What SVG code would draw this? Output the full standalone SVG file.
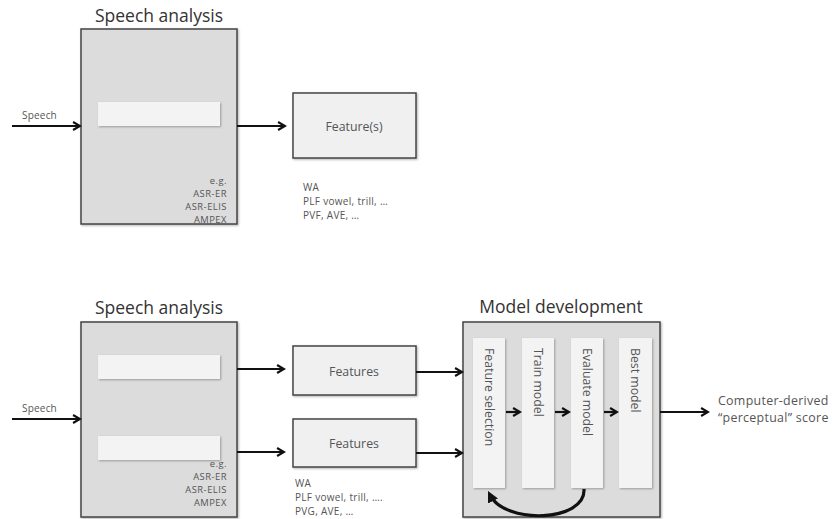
<svg xmlns="http://www.w3.org/2000/svg" width="839" height="519" viewBox="0 0 839 519">
  <style>
    text { font-family: "Open Sans", Lato, "Liberation Sans", sans-serif; fill: #555; }
    .title { font-size: 17.5px; fill: #333; text-anchor: middle; }
    .small { font-size: 10px; letter-spacing: 0.2px; }
    .eg { font-size: 9.4px; letter-spacing: 0.5px; text-anchor: end; }
    .note { font-size: 10px; letter-spacing: 0.3px; }
    .label { font-size: 12.3px; text-anchor: middle; }
    .vert { font-size: 12.3px; }
    .out { font-size: 12.4px; letter-spacing: 0.3px; }
    .outer { fill: #dcdcdc; stroke: #444; stroke-width: 1.5; }
    .bar { fill: #f3f3f3; }
    .feat { fill: #f0f0f0; stroke: #444; stroke-width: 1.5; }
    .col { fill: #f3f3f3; }
    .arrow { fill: none; stroke: #111; stroke-width: 2.2; marker-end: url(#head); }
    .loop { fill: none; stroke: #111; stroke-width: 3.2; marker-end: url(#head2); }
  </style>
  <defs>
    <marker id="head" viewBox="0 0 10 10" refX="8" refY="5" markerWidth="4.5" markerHeight="4.5" orient="auto" markerUnits="strokeWidth">
      <path d="M1,1 L8,5 L1,9" fill="none" stroke="#111" stroke-width="2.2"/>
    </marker>
    <marker id="head2" viewBox="0 0 10 10" refX="6" refY="5" markerWidth="3.5" markerHeight="3.5" orient="auto" markerUnits="strokeWidth">
      <path d="M0,0 L10,5 L0,10 Z" fill="#111"/>
    </marker>
    <filter id="shadow" x="-10%" y="-10%" width="130%" height="130%">
      <feDropShadow dx="1" dy="1" stdDeviation="1" flood-color="#000" flood-opacity="0.3"/>
    </filter>
  </defs>

  <!-- upper pipeline: speech analysis -> features -->
  <g id="speech-analysis-1">
    <text class="title" x="159" y="22">Speech analysis</text>
    <rect class="outer" x="81" y="29" width="156" height="195" filter="url(#shadow)"/>
    <rect class="bar" x="98" y="102" width="122" height="24" filter="url(#shadow)"/>
    <text class="eg" x="227" y="184">e.g.</text>
    <text class="eg" x="227" y="197">ASR-ER</text>
    <text class="eg" x="227" y="210">ASR-ELIS</text>
    <text class="eg" x="227" y="223">AMPEX</text>
  </g>
  <g id="speech-input-1">
    <text class="small" x="22" y="119">Speech</text>
  </g>
  <g id="features-1">
    <rect class="feat" x="293" y="93" width="123" height="65" filter="url(#shadow)"/>
    <text class="label" x="354" y="131">Feature(s)</text>
    <text class="note" x="303" y="191">WA</text>
    <text class="note" x="303" y="205">PLF vowel, trill, …</text>
    <text class="note" x="303" y="219">PVF, AVE, …</text>
  </g>

  <!-- lower pipeline: speech analysis -> features -> model development -->
  <g id="speech-analysis-2">
    <text class="title" x="159" y="314">Speech analysis</text>
    <rect class="outer" x="81" y="322" width="156" height="195" filter="url(#shadow)"/>
    <rect class="bar" x="98" y="355" width="122" height="24" filter="url(#shadow)"/>
    <rect class="bar" x="98" y="436" width="122" height="24" filter="url(#shadow)"/>
    <text class="eg" x="227" y="467">e.g.</text>
    <text class="eg" x="227" y="480">ASR-ER</text>
    <text class="eg" x="227" y="493">ASR-ELIS</text>
    <text class="eg" x="227" y="506">AMPEX</text>
  </g>
  <g id="speech-input-2">
    <text class="small" x="22" y="412">Speech</text>
  </g>
  <g id="features-2a">
    <rect class="feat" x="293" y="346" width="123" height="49" filter="url(#shadow)"/>
    <text class="label" x="354" y="376">Features</text>
  </g>
  <g id="features-2b">
    <rect class="feat" x="293" y="419" width="123" height="48" filter="url(#shadow)"/>
    <text class="label" x="354" y="448">Features</text>
    <text class="note" x="295" y="487">WA</text>
    <text class="note" x="295" y="501">PLF vowel, trill, ….</text>
    <text class="note" x="295" y="515">PVG, AVE, …</text>
  </g>
  <g id="model-development">
    <text class="title" x="561" y="313">Model development</text>
    <rect class="outer" x="463" y="322" width="197" height="195" filter="url(#shadow)"/>
    <rect class="col" x="473" y="338" width="32" height="150" filter="url(#shadow)"/>
    <rect class="col" x="522" y="338" width="32" height="150" filter="url(#shadow)"/>
    <rect class="col" x="571" y="338" width="32" height="150" filter="url(#shadow)"/>
    <rect class="col" x="619" y="338" width="33" height="150" filter="url(#shadow)"/>
    <text class="vert" transform="translate(485,348) rotate(90)">Feature selection</text>
    <text class="vert" transform="translate(534,348) rotate(90)">Train model</text>
    <text class="vert" transform="translate(583,348) rotate(90)">Evaluate model</text>
    <text class="vert" transform="translate(631,348) rotate(90)">Best model</text>
  </g>
  <g id="score-output">
    <text class="out" x="718" y="405">Computer-derived</text>
    <text class="out" x="718" y="422">“perceptual” score</text>
  </g>

  <!-- connectors -->
  <g id="connectors">
    <path class="arrow" d="M12,126 H80"/>
    <path class="arrow" d="M237,126 H285"/>
    <path class="arrow" d="M12,419 H80"/>
    <path class="arrow" d="M237,369 H284"/>
    <path class="arrow" d="M237,452 H284"/>
    <path class="arrow" d="M416,372 H462"/>
    <path class="arrow" d="M416,453 H462"/>
    <path class="arrow" d="M506,412 H520"/>
    <path class="arrow" d="M555,412 H569"/>
    <path class="arrow" d="M604,412 H617"/>
    <path class="arrow" d="M660,412 H708"/>
    <path class="loop" d="M584,489 C586,522 505,525 490,495"/>
  </g>
</svg>
